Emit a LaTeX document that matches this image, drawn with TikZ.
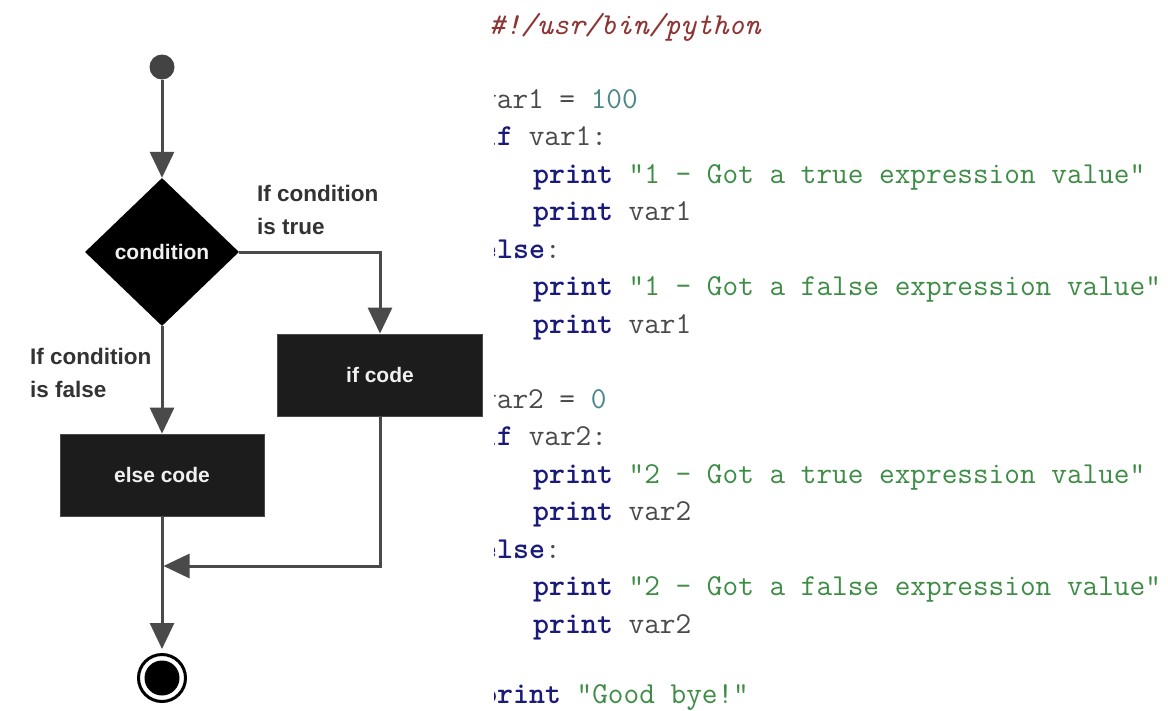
\documentclass[tikz,border=0pt]{standalone}
\usepackage{fontspec}
\setmainfont{Liberation Sans}
\usetikzlibrary{shapes.geometric,arrows.meta}
\definecolor{linec}{HTML}{4A4A4A}
\definecolor{boxc}{HTML}{1C1C1C}
\definecolor{labc}{HTML}{333333}
\definecolor{cmtc}{HTML}{8E3535}
\definecolor{kwc}{HTML}{1A1A7A}
\definecolor{plc}{HTML}{4A4A4A}
\definecolor{numc}{HTML}{4A8888}
\definecolor{strc}{HTML}{3E8C45}
\newcommand\kw[1]{{\bfseries\color{kwc}#1}}
\newcommand\cnum[1]{{\color{numc}#1}}
\newcommand\cstr[1]{{\color{strc}#1}}
\begin{document}
\begin{tikzpicture}[x=1pt,y=-1pt,
  conn/.style={draw=linec, line width=3pt, -{Triangle[length=26pt,width=24pt]}},
  codebox/.style={rectangle, fill=boxc, draw=linec, line width=0.8pt, minimum width=204pt, minimum height=82pt, inner sep=0pt, text=white!94!black, font=\bfseries\fontsize{21}{25}\selectfont},
  lab/.style={anchor=north west, inner sep=0pt, align=left, text=labc, font=\bfseries\fontsize{22.5}{33}\selectfont},
  code/.style={anchor=base west, inner sep=0pt, text=plc, font=\ttfamily\fontsize{30.4}{34}\selectfont}]
\useasboundingbox[fill=white] (0,0) rectangle (1168,710);

% flowchart nodes
\node (start) [circle, fill=linec!90!black, minimum size=25pt, inner sep=0pt] at (162,67) {};
\node (cond) [diamond, fill=black, minimum width=154pt, minimum height=148pt, inner sep=0pt, text=white!94!black, font=\bfseries\fontsize{21}{25}\selectfont] at (162,252) {condition};
\node (ifcode) [codebox, minimum width=205pt] at (380,375) {if code};
\node (elsecode) [codebox] at (162,475) {else code};
\node (stop) [circle, draw=black, line width=3pt, fill=white, minimum size=47pt, inner sep=0pt] at (162,678) {};
\node (stopin) [circle, fill=black, minimum size=35pt, inner sep=0pt] at (stop.center) {};
\coordinate (join) at (163.5,566);

% labels
\node (ltrue) [lab] at (257,185) {If condition\\is true};
\node (lfalse) [lab] at (30,348) {If condition\\is false};

% connectors
\draw[conn] (start) -- (cond.north);
\draw[conn] (cond.east) -| (ifcode.north);
\draw[conn] (cond.south) -- (elsecode.north);
\draw[conn, shorten >=4pt] (elsecode.south) -- (stop.north);
\draw[conn] (ifcode.south) |- (join);

% code
\node (c0) [code] at (489,34) {\itshape\color{cmtc}\#!/usr/bin/python};
\begin{scope}
\clip (494,0) rectangle (1168,710);
\node (c1) [code] at (481,108) {var1 = \cnum{100}};
\node (c2) [code] at (481,145.5) {\kw{if} var1:};
\node (c3) [code] at (533,183) {\kw{print} \cstr{"1 - Got a true expression value"}};
\node (c4) [code] at (533,220.5) {\kw{print} var1};
\node (c5) [code] at (481,258) {\kw{else}:};
\node (c6) [code] at (533,295.5) {\kw{print} \cstr{"1 - Got a false expression value"}};
\node (c7) [code] at (533,333) {\kw{print} var1};
\node (c8) [code] at (481,408) {var2 = \cnum{0}};
\node (c9) [code] at (481,445.5) {\kw{if} var2:};
\node (c10) [code] at (533,483) {\kw{print} \cstr{"2 - Got a true expression value"}};
\node (c11) [code] at (533,520.5) {\kw{print} var2};
\node (c12) [code] at (481,558) {\kw{else}:};
\node (c13) [code] at (533,595.5) {\kw{print} \cstr{"2 - Got a false expression value"}};
\node (c14) [code] at (533,633) {\kw{print} var2};
\node (c15) [code] at (481,703) {\kw{print} \cstr{"Good bye!"}};
\end{scope}
\end{tikzpicture}
\end{document}
